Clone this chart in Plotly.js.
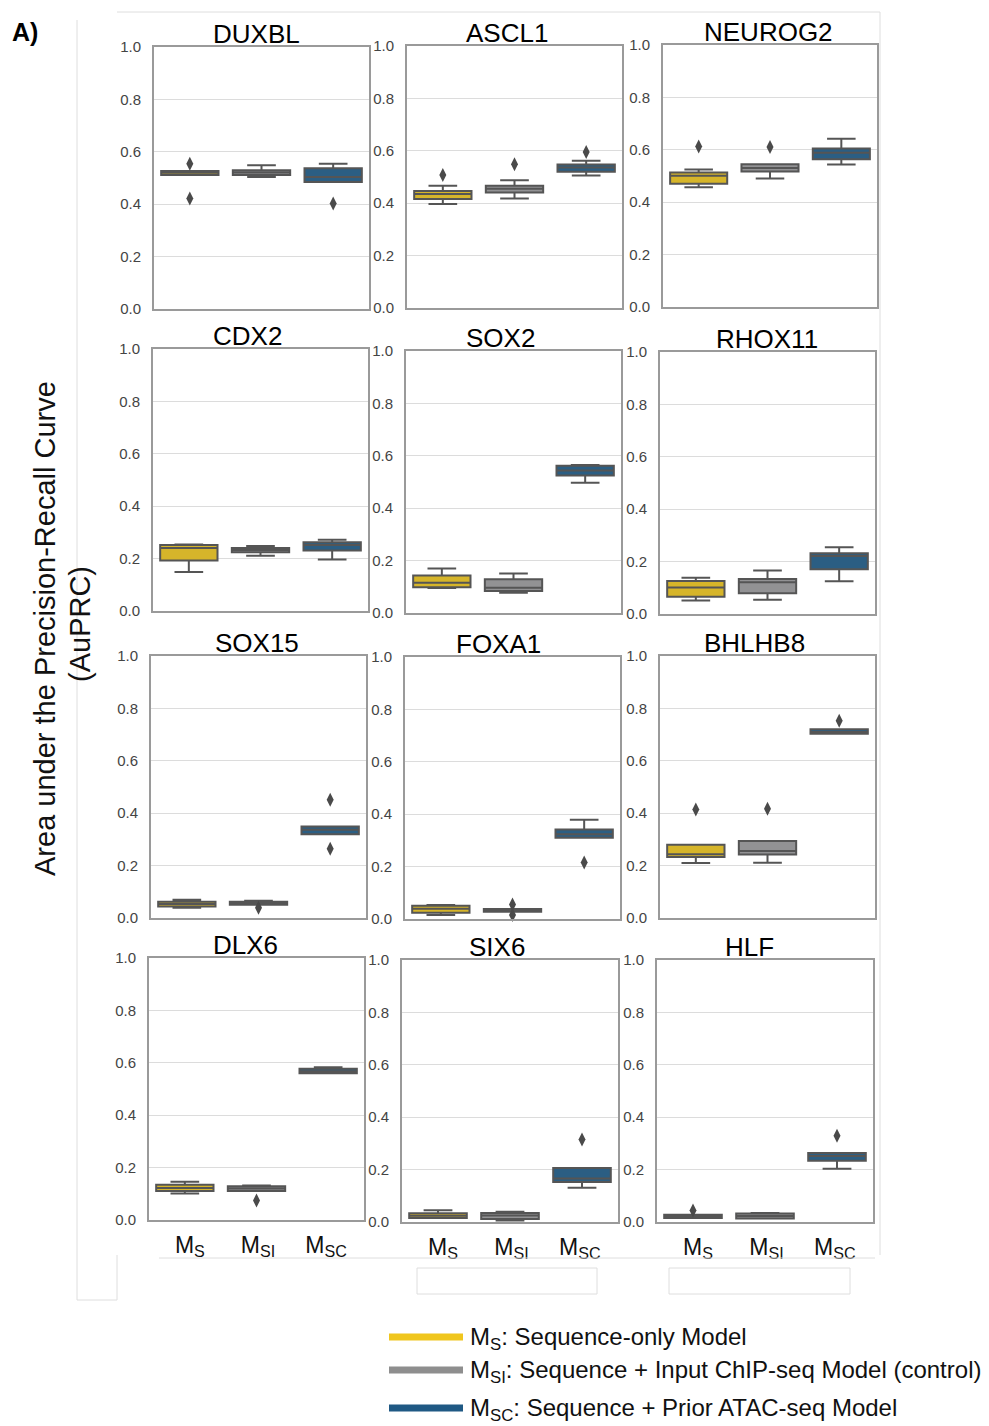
<!DOCTYPE html>
<html>
<head>
<meta charset="utf-8">
<script src="https://cdn.plot.ly/plotly-3.0.1.min.js"></script>
<style>html,body{margin:0;padding:0;background:#fff;}#chart{width:989px;height:1426px;}</style>
</head>
<body>
<div id="chart"></div>
<script>
// ---------- DATA ----------
const genes = ["DUXBL","ASCL1","NEUROG2","CDX2","SOX2","RHOX11","SOX15","FOXA1","BHLHB8","DLX6","SIX6","HLF"];
const modelTicks = ["M<sub>S</sub>","M<sub>SI</sub>","M<sub>SC</sub>"];

// M_S : Sequence-only model
const msLo  = [0.511,0.397,0.457,0.149,0.095,0.052,0.039,0.015,0.210,0.101,0.015,0.015];
const msQ1  = [0.511,0.416,0.470,0.193,0.098,0.066,0.044,0.024,0.233,0.111,0.015,0.015];
const msMed = [0.520,0.435,0.501,0.240,0.115,0.101,0.053,0.039,0.243,0.122,0.024,0.022];
const msQ3  = [0.527,0.447,0.513,0.252,0.143,0.126,0.062,0.051,0.280,0.135,0.033,0.028];
const msHi  = [0.527,0.467,0.525,0.254,0.170,0.138,0.070,0.053,0.280,0.146,0.045,0.028];
const msOut = [[0.554,0.422],[0.508],[0.613],[],[],[],[],[],[0.414],[],[],[0.044]];

// M_SI : Sequence + Input ChIP-seq model
const msiLo  = [0.504,0.418,0.490,0.211,0.077,0.054,0.051,0.028,0.211,0.111,0.006,0.013];
const msiQ1  = [0.511,0.441,0.517,0.224,0.084,0.079,0.051,0.028,0.242,0.111,0.011,0.013];
const msiMed = [0.521,0.455,0.531,0.233,0.096,0.121,0.057,0.033,0.256,0.120,0.025,0.023];
const msiQ3  = [0.530,0.467,0.545,0.240,0.129,0.134,0.062,0.038,0.294,0.129,0.034,0.032];
const msiHi  = [0.549,0.488,0.545,0.248,0.151,0.166,0.066,0.038,0.294,0.132,0.039,0.034];
const msiOut = [[],[0.549],[0.611],[],[],[],[0.039],[0.055,0.015],[0.417],[0.074],[],[]];

// M_SC : Sequence + Prior ATAC-seq model
const mscLo  = [0.485,0.506,0.544,0.197,0.497,0.125,0.320,0.310,0.703,0.560,0.131,0.203];
const mscQ1  = [0.485,0.520,0.564,0.231,0.525,0.171,0.320,0.310,0.703,0.560,0.153,0.234];
const mscMed = [0.504,0.536,0.589,0.252,0.544,0.221,0.337,0.323,0.710,0.568,0.166,0.252];
const mscQ3  = [0.537,0.548,0.605,0.262,0.562,0.232,0.349,0.342,0.720,0.577,0.206,0.263];
const mscHi  = [0.554,0.562,0.642,0.272,0.565,0.255,0.349,0.379,0.720,0.583,0.206,0.263];
const mscOut = [[0.403],[0.595],[],[],[],[],[0.451,0.264],[0.216],[0.753],[],[0.315],[0.329]];

const legendLabels = [
  "M<sub>S</sub>: Sequence-only Model",
  "M<sub>SI</sub>: Sequence + Input ChIP-seq Model (control)",
  "M<sub>SC</sub>: Sequence + Prior ATAC-seq Model"
];

// ---------- STYLE / LAYOUT ----------
const W = 989, H = 1426;
const boxFill = ["#d6b52a","#929294","#2b5e83"];
const legendCol = ["#f0c61e","#8e8e8e","#1f5984"];
const edge = "#555555";
const FONT = "Liberation Sans, Arial, Helvetica, sans-serif";

// panel pixel boxes [left, right, top, bottom]
const panels = [
  [154,369,47,309],[407,622,46,308],[663,877,45,307],
  [153,368,349,611],[406,621,351,613],[660,875,352,614],
  [151,366,656,918],[405,620,657,919],[660,875,656,918],
  [149,364,958,1220],[402,618,960,1222],[657,873,960,1222]
];
const titleX = [256,507,768,247,500,767,257,499,754,245,497,749];

const models = [
  {lo:msLo,q1:msQ1,med:msMed,q3:msQ3,hi:msHi,out:msOut},
  {lo:msiLo,q1:msiQ1,med:msiMed,q3:msiQ3,hi:msiHi,out:msiOut},
  {lo:mscLo,q1:mscQ1,med:mscMed,q3:mscQ3,hi:mscHi,out:mscOut}
];

const data = [];
const layout = {
  width: W, height: H,
  margin: {l:0,r:0,t:0,b:0},
  paper_bgcolor: "#fff", plot_bgcolor: "#fff",
  showlegend: false,
  font: {family: FONT, color: "#444"},
  annotations: [], shapes: []
};

genes.forEach((g, i) => {
  const n = i + 1;
  const xa = "x" + (n === 1 ? "" : n), ya = "y" + (n === 1 ? "" : n);
  const [l, r, t, b] = panels[i];
  const bottomRow = i >= 9;
  layout["xaxis" + (n === 1 ? "" : n)] = {
    domain: [l / W, r / W], anchor: ya,
    range: [-0.5, 2.5], tickvals: [0.07,1.02,1.97], ticktext: modelTicks,
    showticklabels: bottomRow, ticks: "", showgrid: false, zeroline: false,
    showline: true, mirror: true, linecolor: "#9a9a9a", linewidth: 2,
    tickfont: {size: 23, color: "#111", family: FONT}, ticklabelstandoff: 3,
    fixedrange: true
  };
  layout["yaxis" + (n === 1 ? "" : n)] = {
    domain: [1 - b / H, 1 - t / H], anchor: xa,
    range: [0, 1], tickvals: [0,0.2,0.4,0.6,0.8,1.0], tickformat: ".1f",
    showgrid: true, gridcolor: "#dcdcdc", gridwidth: 1, zeroline: false,
    showline: true, mirror: true, linecolor: "#9a9a9a", linewidth: 2,
    ticks: "", tickfont: {size: 15, color: "#444", family: FONT}, ticklabelstandoff: 8,
    fixedrange: true
  };
  layout.annotations.push({
    xref: "paper", yref: "paper", x: titleX[i] / W, y: 1 - t / H,
    xanchor: "center", yanchor: "bottom", yshift: -4,
    text: g, showarrow: false, font: {size: 26, color: "#000", family: FONT}
  });
  models.forEach((m, k) => {
    data.push({
      type: "box", xaxis: xa, yaxis: ya,
      x: [k], q1: [m.q1[i]], median: [m.med[i]], q3: [m.q3[i]],
      lowerfence: [m.lo[i]], upperfence: [m.hi[i]],
      width: 0.8, whiskerwidth: 0.5,
      fillcolor: boxFill[k], line: {color: edge, width: 2},
      hoverinfo: "skip"
    });
    if (m.out[i].length) {
      data.push({
        type: "scatter", mode: "markers", xaxis: xa, yaxis: ya,
        x: m.out[i].map(() => k), y: m.out[i], cliponaxis: false,
        marker: {symbol: "diamond-tall", size: 10, color: "#4a4a4a", line: {width: 0}},
        hoverinfo: "skip"
      });
    }
  });
});

// y-axis title
layout.annotations.push({
  xref: "paper", yref: "paper", x: 45 / W, y: 1 - 629 / H, textangle: -90,
  xanchor: "center", yanchor: "middle", showarrow: false,
  text: "Area under the Precision-Recall Curve", font: {size: 29, color: "#111", family: FONT}
});
layout.annotations.push({
  xref: "paper", yref: "paper", x: 80 / W, y: 1 - 624 / H, textangle: -90,
  xanchor: "center", yanchor: "middle", showarrow: false,
  text: "(AuPRC)", font: {size: 29, color: "#111", family: FONT}
});
// panel label
layout.annotations.push({
  xref: "paper", yref: "paper", x: 10 / W, y: 1 - 32 / H,
  xanchor: "left", yanchor: "middle", showarrow: false,
  text: "<b>A)</b>", font: {size: 25, color: "#000", family: FONT}
});

// legend
const legY = [1337, 1370, 1408];
legendLabels.forEach((txt, k) => {
  layout.shapes.push({
    type: "line", xref: "paper", yref: "paper",
    x0: 389 / W, x1: 463 / W, y0: 1 - legY[k] / H, y1: 1 - legY[k] / H,
    line: {color: legendCol[k], width: 7}
  });
  layout.annotations.push({
    xref: "paper", yref: "paper", x: 468 / W, y: 1 - (legY[k] + 1) / H,
    xanchor: "left", yanchor: "middle", showarrow: false,
    text: txt, font: {size: 24, color: "#111", family: FONT}
  });
});

// faint collage frame lines
const faint = {color: "#dedede", width: 1};
function pl(x0, y0, x1, y1) {
  layout.shapes.push({type: "line", xref: "paper", yref: "paper",
    x0: x0 / W, x1: x1 / W, y0: 1 - y0 / H, y1: 1 - y1 / H, line: faint});
}
pl(117, 12, 880, 12);
pl(77, 20, 77, 1300);
pl(77, 1300, 117, 1300);
pl(117, 1255, 117, 1300);
pl(880, 12, 880, 1255);
pl(159, 1258, 875, 1258);
layout.shapes.push({type: "rect", xref: "paper", yref: "paper",
  x0: 417 / W, x1: 597 / W, y0: 1 - 1294 / H, y1: 1 - 1268 / H, line: faint});
layout.shapes.push({type: "rect", xref: "paper", yref: "paper",
  x0: 669 / W, x1: 850 / W, y0: 1 - 1294 / H, y1: 1 - 1268 / H, line: faint});

Plotly.newPlot("chart", data, layout, {staticPlot: true, displayModeBar: false});
</script>
</body>
</html>
